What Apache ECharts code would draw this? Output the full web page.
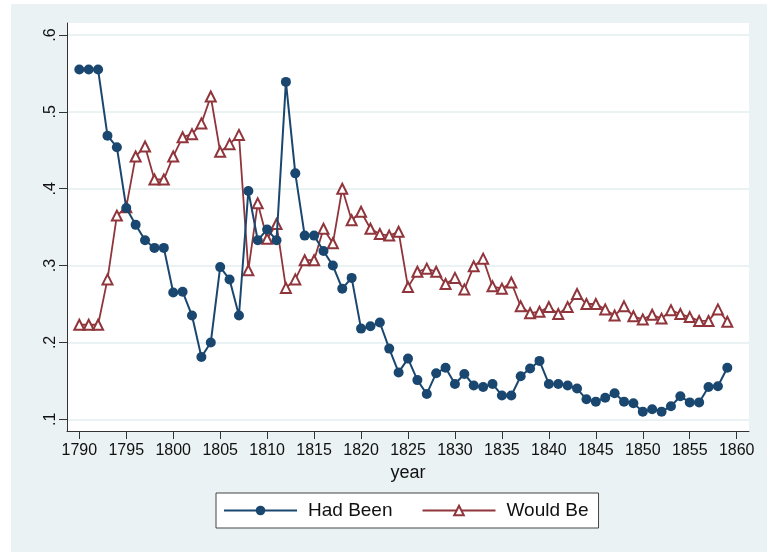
<!DOCTYPE html>
<html>
<head>
<meta charset="utf-8">
<script src="https://cdn.jsdelivr.net/npm/echarts@6/dist/echarts.min.js"></script>
<style>
  html, body { margin: 0; padding: 0; background: #fff; }
  #chart { width: 767px; height: 552px; }
</style>
</head>
<body>
<div id="chart"></div>
<script>
// years on the x axis
var years = [1790, 1791, 1792, 1793, 1794, 1795, 1796, 1797, 1798, 1799,
             1800, 1801, 1802, 1803, 1804, 1805, 1806, 1807, 1808, 1809,
             1810, 1811, 1812, 1813, 1814, 1815, 1816, 1817, 1818, 1819,
             1820, 1821, 1822, 1823, 1824, 1825, 1826, 1827, 1828, 1829,
             1830, 1831, 1832, 1833, 1834, 1835, 1836, 1837, 1838, 1839,
             1840, 1841, 1842, 1843, 1844, 1845, 1846, 1847, 1848, 1849,
             1850, 1851, 1852, 1853, 1854, 1855, 1856, 1857, 1858, 1859];

var hadBeen = [0.555, 0.555, 0.555, 0.469, 0.454, 0.375, 0.353, 0.333, 0.323, 0.323,
               0.265, 0.266, 0.235, 0.181, 0.200, 0.298, 0.282, 0.235, 0.397, 0.333,
               0.347, 0.333, 0.539, 0.420, 0.339, 0.339, 0.319, 0.300, 0.270, 0.284,
               0.218, 0.221, 0.226, 0.192, 0.161, 0.179, 0.151, 0.133, 0.160, 0.167,
               0.146, 0.159, 0.144, 0.142, 0.146, 0.131, 0.131, 0.156, 0.166, 0.176,
               0.146, 0.146, 0.144, 0.140, 0.126, 0.123, 0.128, 0.134, 0.123, 0.121,
               0.110, 0.113, 0.110, 0.117, 0.130, 0.122, 0.122, 0.142, 0.143, 0.167];

var wouldBe = [0.223, 0.223, 0.223, 0.282, 0.365, 0.376, 0.442, 0.455, 0.412, 0.412,
               0.442, 0.467, 0.471, 0.485, 0.520, 0.448, 0.458, 0.470, 0.294, 0.381,
               0.335, 0.354, 0.271, 0.282, 0.307, 0.307, 0.348, 0.329, 0.400, 0.359,
               0.370, 0.348, 0.341, 0.339, 0.344, 0.272, 0.292, 0.296, 0.292, 0.276,
               0.284, 0.269, 0.299, 0.309, 0.273, 0.270, 0.278, 0.247, 0.238, 0.240,
               0.246, 0.237, 0.246, 0.263, 0.250, 0.250, 0.243, 0.235, 0.247, 0.234,
               0.230, 0.236, 0.231, 0.242, 0.237, 0.233, 0.228, 0.228, 0.243, 0.227];

// tick labels
var xTicks = [1790, 1795, 1800, 1805, 1810, 1815, 1820, 1825, 1830, 1835, 1840, 1845, 1850, 1855, 1860];
var yTicks = [0.1, 0.2, 0.3, 0.4, 0.5, 0.6];

var FONT = '"Liberation Sans", Arial, sans-serif';

function pairs(vals) {
    return years.map(function (y, i) { return [y, vals[i]]; });
}

var chart = echarts.init(document.getElementById('chart'));
var option = {
    animation: false,
    textStyle: {fontFamily: FONT},
    graphic: [
        // stata background
        {type: 'rect', z: -10, shape: {x: 11, y: 4, width: 756, height: 548}, style: {fill: '#EAF2F3'}},
        // plot region
        {type: 'rect', z: -9, shape: {x: 67, y: 23, width: 682, height: 408}, style: {fill: '#fff'}}
    ],
    grid: {
        left: 67,
        right: 18,
        top: 23,
        bottom: 121,
        containLabel: false
    },
    legend: {
        left: 216,
        top: 493,
        orient: 'horizontal',
        backgroundColor: '#fff',
        borderColor: '#444',
        borderWidth: 1,
        borderRadius: 0,
        padding: [8, 10, 8, 7],
        itemWidth: 73,
        itemHeight: 12,
        itemGap: 29,
        textStyle: {
            color: '#111',
            fontSize: 19,
            fontFamily: FONT,
            padding: [0, 0, 0, 6]
        },
        data: ['Had Been', 'Would Be']
    },
    xAxis: {
        type: 'value',
        min: 1788.69,
        max: 1861.31,
        name: 'year',
        nameLocation: 'middle',
        nameGap: 31,
        nameTextStyle: {color: '#111', fontSize: 18, fontFamily: FONT},
        axisLine: {show: true, lineStyle: {color: '#333', width: 1}},
        axisTick: {show: true, inside: false, length: 8, customValues: xTicks, lineStyle: {color: '#333'}},
        axisLabel: {
            customValues: xTicks,
            margin: 12,
            color: '#111',
            fontSize: 16,
            fontFamily: FONT,
            formatter: function (v) { return String(v); }
        },
        splitLine: {show: false}
    },
    yAxis: {
        type: 'value',
        min: 0.0848,
        max: 0.6156,
        axisLine: {show: true, lineStyle: {color: '#333', width: 1}},
        axisTick: {show: true, inside: false, length: 8, customValues: yTicks, lineStyle: {color: '#333'}},
        axisLabel: {
            customValues: yTicks,
            rotate: 90,
            margin: 8,
            color: '#111',
            fontSize: 16,
            fontFamily: FONT,
            formatter: function (v) {
                return String(Math.round(v * 10) / 10).replace('0.', '.');
            }
        },
        splitLine: {show: true, lineStyle: {color: '#EAF2F3', width: 2}}
    },
    series: [
        {
            name: 'Had Been',
            type: 'line',
            data: pairs(hadBeen),
            symbol: 'circle',
            symbolSize: 10,
            color: '#1A476F',
            lineStyle: {color: '#1A476F', width: 2},
            itemStyle: {color: '#1A476F'},
            z: 3
        },
        {
            name: 'Would Be',
            type: 'line',
            data: pairs(wouldBe),
            symbol: 'triangle',
            symbolSize: 10,
            color: '#90353B',
            lineStyle: {color: '#90353B', width: 1.8},
            itemStyle: {color: '#fff', borderColor: '#90353B', borderWidth: 2},
            z: 2
        }
    ]
};
chart.setOption(option, true);
</script>
</body>
</html>
